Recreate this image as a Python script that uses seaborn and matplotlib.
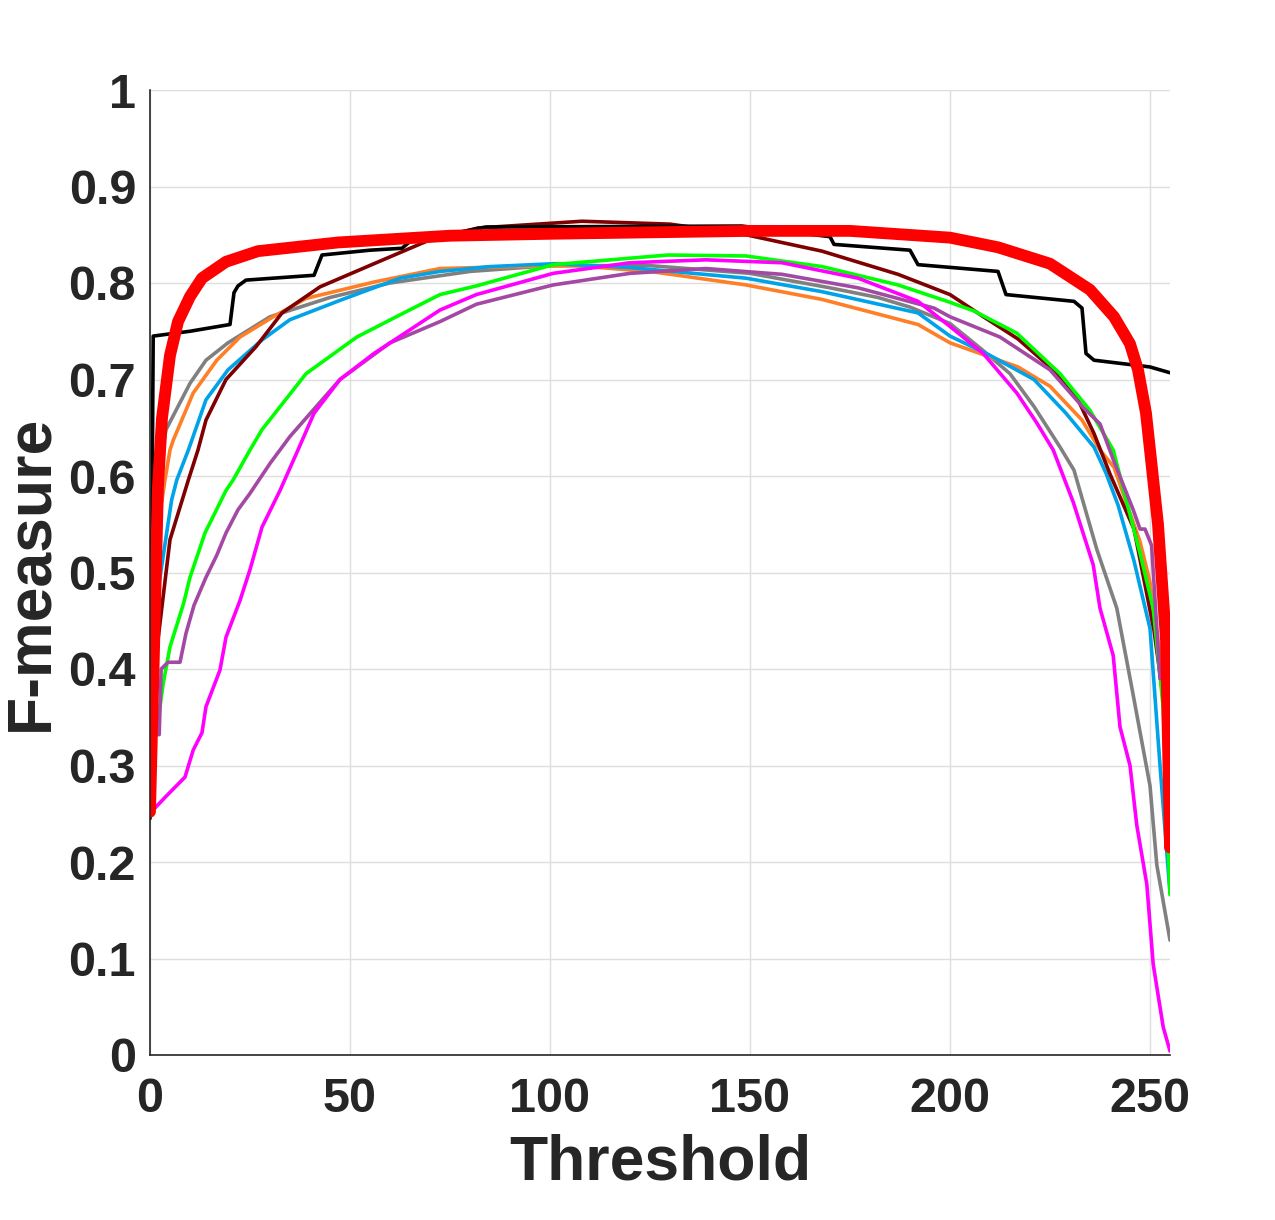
import matplotlib
matplotlib.use("Agg")
import matplotlib.pyplot as plt
import seaborn as sns
import pandas as pd

# ---- data ----
black_t = [0, 0.8, 10, 20, 21, 22, 24, 41, 43, 55, 63, 65, 84, 148, 170, 171, 190, 192, 212, 214, 231, 233, 234, 236, 250, 255]
black_v = [0.245, 0.745, 0.75, 0.757, 0.79, 0.797, 0.803, 0.808, 0.829, 0.834, 0.836, 0.843, 0.858, 0.859, 0.848, 0.84, 0.834, 0.819, 0.812, 0.788, 0.781, 0.774, 0.727, 0.72, 0.713, 0.707]

maroon_t = [0, 1.7, 5, 9.6, 12, 14, 19, 26.5, 33, 42.5, 56, 69, 82, 108, 130, 149, 168, 187, 200, 208, 217, 225, 232, 236, 240, 246, 251, 253, 255]
maroon_v = [0.38, 0.42, 0.534, 0.596, 0.627, 0.658, 0.70, 0.734, 0.769, 0.796, 0.82, 0.843, 0.857, 0.864, 0.861, 0.85, 0.833, 0.809, 0.788, 0.766, 0.742, 0.713, 0.679, 0.644, 0.602, 0.545, 0.44, 0.38, 0.30]

orange_t = [0, 3, 3.75, 5, 5.8, 10.8, 16.7, 22.5, 30.8, 39, 56, 72.5, 91, 106, 125, 149, 168, 192, 200, 217, 225, 233, 237.5, 241, 247.5, 250, 253, 255]
orange_v = [0.5, 0.575, 0.596, 0.627, 0.637, 0.686, 0.72, 0.744, 0.765, 0.784, 0.801, 0.815, 0.817, 0.818, 0.812, 0.798, 0.783, 0.757, 0.738, 0.713, 0.693, 0.658, 0.627, 0.609, 0.532, 0.49, 0.40, 0.30]

gray_t = [0, 2, 4, 10, 14, 19.5, 30, 45, 60, 80, 100, 125, 150, 170, 182, 190, 200, 208, 215, 221, 227.5, 231, 236.7, 241.7, 245.8, 250, 251.7, 255]
gray_v = [0.5, 0.6, 0.648, 0.696, 0.72, 0.738, 0.765, 0.785, 0.8, 0.812, 0.818, 0.818, 0.81, 0.795, 0.785, 0.775, 0.758, 0.731, 0.706, 0.672, 0.63, 0.606, 0.524, 0.463, 0.373, 0.279, 0.197, 0.119]

blue_t = [0, 2.5, 5.4, 6.7, 9.6, 14, 19.5, 28, 35, 47.5, 62.5, 72.5, 85, 101, 120, 149, 168, 192, 200, 210, 221, 229, 236, 239, 242, 246, 250, 252.5, 255]
blue_v = [0.43, 0.495, 0.575, 0.596, 0.627, 0.679, 0.71, 0.741, 0.762, 0.782, 0.805, 0.812, 0.817, 0.82, 0.816, 0.805, 0.791, 0.769, 0.745, 0.725, 0.70, 0.665, 0.63, 0.603, 0.57, 0.512, 0.442, 0.3, 0.168]

green_t = [1, 1.7, 3.3, 5, 8.4, 10, 13.75, 19, 20.8, 25, 28, 39, 51.7, 62.5, 72.5, 81.6, 100.8, 129.5, 149, 168, 187, 200, 206, 216.7, 227.5, 235, 240.8, 247.5, 250.8, 253.3, 255]
green_v = [0.33, 0.337, 0.385, 0.423, 0.468, 0.495, 0.541, 0.585, 0.596, 0.627, 0.648, 0.706, 0.744, 0.767, 0.788, 0.797, 0.819, 0.829, 0.828, 0.817, 0.798, 0.78, 0.771, 0.748, 0.706, 0.668, 0.627, 0.52, 0.463, 0.36, 0.166]

purple_t = [1.7, 2.3, 2.8, 4.5, 7.5, 9, 11, 14, 16.7, 19, 22, 25, 30, 35, 47.5, 60, 72.5, 81.6, 100.8, 120, 139, 158, 177, 196, 200, 212.5, 225, 233.3, 237.5, 241, 245.8, 247.5, 248.75, 250.4, 252.5, 255]
purple_v = [0.332, 0.332, 0.40, 0.407, 0.407, 0.437, 0.466, 0.495, 0.518, 0.541, 0.565, 0.582, 0.613, 0.641, 0.70, 0.738, 0.76, 0.778, 0.798, 0.81, 0.815, 0.809, 0.795, 0.774, 0.765, 0.744, 0.71, 0.671, 0.654, 0.615, 0.565, 0.545, 0.545, 0.528, 0.39, 0.39]

magenta_t = [1.25, 4, 8.75, 10.8, 13, 14, 17.5, 19, 22.5, 25, 28, 32.5, 37, 41, 47.5, 56, 72.5, 81.6, 100.8, 120, 139, 158, 177, 192, 200, 208.3, 216.7, 221.7, 225.8, 230.8, 235.8, 237.5, 240.8, 242.5, 245, 246.7, 249.2, 250.8, 253.3, 255]
magenta_v = [0.256, 0.268, 0.288, 0.316, 0.334, 0.361, 0.399, 0.433, 0.471, 0.503, 0.547, 0.585, 0.627, 0.665, 0.70, 0.727, 0.772, 0.788, 0.81, 0.821, 0.824, 0.821, 0.805, 0.781, 0.755, 0.727, 0.686, 0.655, 0.627, 0.573, 0.508, 0.463, 0.414, 0.34, 0.30, 0.238, 0.177, 0.094, 0.029, 0.004]

red_t = [0, 1, 2, 3, 5, 7, 10, 13, 19, 27, 47, 75, 100, 150, 175, 200, 212, 225, 235, 241, 245, 247, 249, 250, 252, 254, 255]
red_v = [0.252, 0.42, 0.59, 0.66, 0.725, 0.76, 0.786, 0.805, 0.822, 0.833, 0.842, 0.849, 0.851, 0.854, 0.854, 0.847, 0.837, 0.82, 0.793, 0.765, 0.737, 0.71, 0.665, 0.627, 0.55, 0.43, 0.215]

x_ticks = [0, 50, 100, 150, 200, 250]
y_ticks = [0, 0.1, 0.2, 0.3, 0.4, 0.5, 0.6, 0.7, 0.8, 0.9, 1]
y_tick_labels = ["0", "0.1", "0.2", "0.3", "0.4", "0.5", "0.6", "0.7", "0.8", "0.9", "1"]

series = [
    ("gray", gray_t, gray_v, "#808080", 2.6),
    ("orange", orange_t, orange_v, "#FF7F27", 2.6),
    ("blue", blue_t, blue_v, "#00A2E8", 2.6),
    ("maroon", maroon_t, maroon_v, "#7F0000", 2.6),
    ("green", green_t, green_v, "#00FF00", 2.6),
    ("purple", purple_t, purple_v, "#A349A4", 2.6),
    ("magenta", magenta_t, magenta_v, "#FF00FF", 2.6),
    ("black", black_t, black_v, "#000000", 2.6),
    ("red", red_t, red_v, "#FF0000", 8.5),
]

sns.set_theme(style="white")
plt.rcParams["font.family"] = ["Liberation Sans", "DejaVu Sans"]
plt.rcParams["font.weight"] = "bold"

fig = plt.figure(figsize=(12.75, 12.2), dpi=100)
ax = fig.add_axes([150 / 1275, 165 / 1220, 1020 / 1275, 965 / 1220])

for name, t, v, col, lw in series:
    df = pd.DataFrame({"Threshold": t, "F": v})
    sns.lineplot(data=df, x="Threshold", y="F", color=col, linewidth=lw,
                 estimator=None, sort=False, ax=ax, solid_joinstyle="round")

ax.set_xlim(0, 255)
ax.set_ylim(0, 1)
ax.set_xticks(x_ticks)
ax.set_yticks(y_ticks)
ax.set_yticklabels(y_tick_labels)
ax.grid(True, color="#dedede", linewidth=1.0)
ax.set_axisbelow(True)
for s in ["top", "right"]:
    ax.spines[s].set_visible(False)
for s in ["left", "bottom"]:
    ax.spines[s].set_color("#262626")
    ax.spines[s].set_linewidth(1.2)
ax.tick_params(direction="in", length=7, width=1, colors="#262626",
               labelsize=35)
ax.tick_params(axis="y", pad=10)
ax.tick_params(axis="x", pad=16)
for lab in ax.get_xticklabels() + ax.get_yticklabels():
    lab.set_fontweight("bold")
ax.set_xlabel("Threshold", fontsize=45, fontweight="bold", color="#262626", labelpad=8)
ax.set_ylabel("F-measure", fontsize=45, fontweight="bold", color="#262626", labelpad=6)

fig.savefig("out.png", dpi=100)
